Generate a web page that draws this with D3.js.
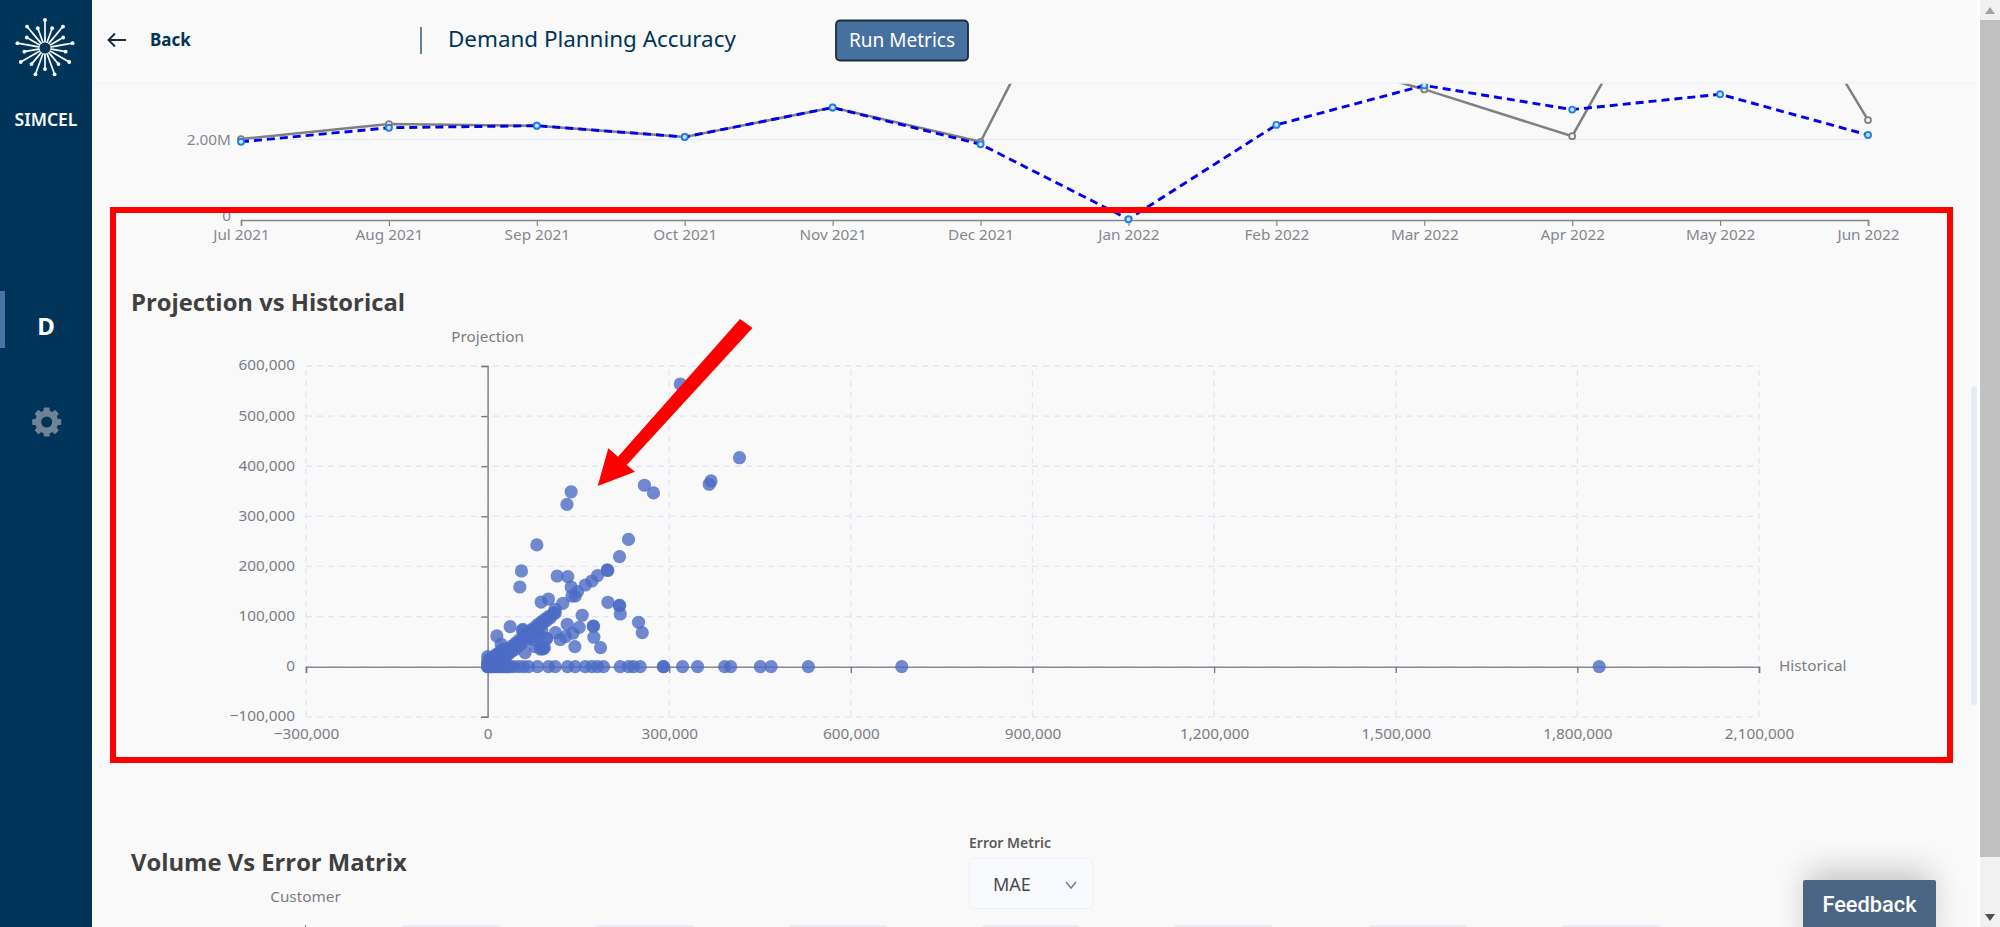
<!DOCTYPE html>
<html>
<head>
<meta charset="utf-8">
<title>Demand Planning Accuracy</title>
<script src="https://cdn.jsdelivr.net/npm/d3@7"></script>
<style>
  html, body { margin: 0; padding: 0; background: #f9f9f9; overflow: hidden; }
  svg { display: block; }
  text { font-family: "Noto Sans", sans-serif; }
  .tick-label text { font-size: 15.3px; fill: #7b7d85; }
</style>
</head>
<body>
<div id="page"></div>
<script>
var monthLabels = ["Jul 2021","Aug 2021","Sep 2021","Oct 2021","Nov 2021","Dec 2021","Jan 2022","Feb 2022","Mar 2022","Apr 2022","May 2022","Jun 2022"];
var actualValues = [2007000,2380000,2340000,2060000,2790000,1940000,9100000,4300000,3240000,2080000,8600000,2480000];
var plannedValues = [1940000,2290000,2340000,2060000,2790000,1880000,20000,2360000,3340000,2740000,3120000,2110000];
var lineTicks = [0,2000000];

var historicalTicks = [-300000,0,300000,600000,900000,1200000,1500000,1800000,2100000];
var projectionTicks = [-100000,0,100000,200000,300000,400000,500000,600000];

// upper scatter, off the diagonal
var offHistorical = [318200,416000,369000,366000,259000,274000,138000,131000,232700,81300,217900,55900,53200,114900,132500,197500,198500,181500,172200,161200,138000,148500,144600,139200,100500,88400,124300,111600,198700,217400,218200,219000,249300,255400,156200,174400,175000,175500,186500,144100,131400,151300,140800,128600,119800,112100,96700,97500,93900,87300,62000,37200,15200,58200,22300,57500,90600,91800,78500,89600,84000,78500,0,0,0,3000];
var offProjection = [564000,417000,370600,364000,362000,346700,349000,324000,254000,243000,219600,191000,159000,181000,179600,193000,192000,181600,171000,163000,159000,149700,141000,141000,135000,129000,126500,114600,128500,121800,122500,105200,88600,67900,102600,81200,80500,58700,37900,39900,84600,78600,66700,59900,53900,67900,56700,56000,37900,35300,27900,79800,61300,74600,44700,71800,35300,36000,53300,73300,60000,39900,5000,10000,20000,15000];

// the thick band where projection follows historical
var bandHistorical = [3500,7200,9800,13500,16100,19400,22800,25300,28900,31200,34700,37100,40600,43300,46800,49500,52700,55400,58900,61300,64800,67200,70500,73600,76200,79800,82100,85400,88300,91700,94200,97500,100300,103800,106900,109400,111600,2000,6500,11000,14200,18300,21700,26400,5000,10500,15800,20400,24900,29800,33900,38400,44200,48700,54100,60200,66300,71900,77800,83600];
var bandProjection = [6000,4800,11200,9300,17100,14800,23900,20600,30100,26800,35200,33400,41700,39100,47800,45600,53400,51300,59600,57200,65100,63400,71800,69600,77200,75300,83400,81100,88900,87200,94300,92100,99700,97800,103900,107200,107000,12500,14800,20300,24600,26100,31400,36200,1800,3600,7400,11800,14300,19500,24800,29600,33500,39200,44100,50300,56400,61800,67400,73900];

// points sitting on the zero line, zero projection
var zeroHistorical = [0,0,1000,2000,3000,5000,7000,9000,12000,15000,18000,21000,24000,27000,30000,33000,37000,42700,51000,59200,67500,82300,100500,111600,132000,144600,161200,172200,181500,191400,219000,232800,241000,252100,290000,291000,322000,346800,391400,401400,450400,468300,529800,684000,1836000];

var svg = d3.select("#page").append("svg")
    .attr("width", 2000)
    .attr("height", 927);

svg.append("rect").attr("width", 2000).attr("height", 927).attr("fill", "#f9f9f9");

/* ---- line chart left over from the section above ---- */
var lineX = d3.scalePoint().domain(monthLabels).range([241, 1868]);
var lineY = d3.scaleLinear().domain([0, 2000000]).range([220, 139.4]);

var lineGrid = svg.append("g");
lineGrid.append("line")
    .attr("x1", lineX.range()[0]).attr("x2", lineX.range()[1])
    .attr("y1", lineY(2000000)).attr("y2", lineY(2000000))
    .attr("stroke", "#e9edf3").attr("stroke-width", 1.5);

var lineBottom = svg.append("g")
    .attr("class", "tick-label")
    .attr("transform", "translate(0," + lineY(0) + ")")
    .call(d3.axisBottom(lineX).tickSize(6).tickPadding(3));
lineBottom.select(".domain").attr("stroke", "#85868c").attr("stroke-width", 1.6);
lineBottom.selectAll(".tick line").attr("stroke", "#85868c").attr("stroke-width", 1.2);
lineBottom.selectAll("text").style("fill", "#85878d");

var lineLeft = svg.append("g")
    .attr("class", "tick-label")
    .attr("transform", "translate(241,0)")
    .call(d3.axisLeft(lineY).tickValues(lineTicks).tickSize(0).tickPadding(10)
      .tickFormat(function(d) { return d === 0 ? "0" : (d / 1000000).toFixed(2) + "M"; }));
lineLeft.select(".domain").remove();
lineLeft.selectAll("text").style("fill", "#85878d");
lineLeft.selectAll("text").filter(function(d) { return d === 0; }).attr("y", -4);

var linePath = d3.line()
    .x(function(d, i) { return lineX(monthLabels[i]); })
    .y(function(d) { return lineY(d); });

svg.append("path").datum(actualValues)
    .attr("d", linePath).attr("fill", "none")
    .attr("stroke", "#808080").attr("stroke-width", 2.5);
svg.selectAll(".actual-dot").data(actualValues).enter().append("circle")
    .attr("class", "actual-dot")
    .attr("cx", function(d, i) { return lineX(monthLabels[i]); })
    .attr("cy", function(d) { return lineY(d); })
    .attr("r", 3)
    .attr("fill", "#f4f4f4").attr("stroke", "#808080").attr("stroke-width", 1.8);

svg.append("path").datum(plannedValues)
    .attr("d", linePath).attr("fill", "none")
    .attr("stroke", "#0000f0").attr("stroke-width", 2.9)
    .attr("stroke-dasharray", "8,5");
svg.selectAll(".planned-dot").data(plannedValues).enter().append("circle")
    .attr("class", "planned-dot")
    .attr("cx", function(d, i) { return lineX(monthLabels[i]); })
    .attr("cy", function(d) { return lineY(d); })
    .attr("r", 3)
    .attr("fill", "#cfe4fb").attr("stroke", "#1e82e6").attr("stroke-width", 1.9);

/* ---- sticky header hides what rises above it ---- */
svg.append("rect").attr("x", 92).attr("y", 0).attr("width", 1888).attr("height", 83).attr("fill", "#f9f9f9");
svg.append("line").attr("x1", 92).attr("x2", 1975).attr("y1", 83).attr("y2", 83)
    .attr("stroke", "#f0f3f8").attr("stroke-width", 1.5);

svg.append("path").attr("d", "M126,40H109M115,33.5L108.5,40L115,46.5")
    .attr("fill", "none").attr("stroke", "#1c2b3a").attr("stroke-width", 1.9);
svg.append("text").attr("x", 150).attr("y", 46).text("Back")
    .attr("font-size", 17).attr("font-weight", 700).attr("fill", "#003459");
svg.append("line").attr("x1", 421).attr("x2", 421).attr("y1", 27).attr("y2", 54)
    .attr("stroke", "#003459").attr("stroke-width", 1.2);
svg.append("text").attr("x", 448).attr("y", 47).text("Demand Planning Accuracy")
    .attr("font-size", 22.4).attr("fill", "#003459");
svg.append("rect").attr("x", 836).attr("y", 20.5).attr("width", 132).attr("height", 40).attr("rx", 4)
    .attr("fill", "#46709f").attr("stroke", "#1d2a38").attr("stroke-width", 1.8);
svg.append("text").attr("x", 902).attr("y", 47).attr("text-anchor", "middle").text("Run Metrics")
    .attr("font-size", 19).attr("fill", "#fff");

/* ---- Projection vs Historical ---- */
svg.append("text").attr("x", 131).attr("y", 311).text("Projection vs Historical")
    .style("font-family", "'Open Sans'")
    .attr("font-size", 23.8).attr("font-weight", 700).attr("fill", "#404040");

var x = d3.scaleLinear().domain([-300000, 2100000]).range([306, 1759]);
var y = d3.scaleLinear().domain([-100000, 600000]).range([716.8, 366]);

var grid = svg.append("g").attr("stroke", "#dfe6f5").attr("stroke-width", 1.3).attr("stroke-dasharray", "6,5");
grid.selectAll(".gy").data(projectionTicks).enter().append("line")
    .attr("x1", x.range()[0]).attr("x2", x.range()[1])
    .attr("y1", function(d) { return y(d); }).attr("y2", function(d) { return y(d); });
grid.selectAll(".gx").data(historicalTicks).enter().append("line")
    .attr("y1", y.range()[0]).attr("y2", y.range()[1])
    .attr("x1", function(d) { return x(d); }).attr("x2", function(d) { return x(d); });

// axis lines cross at zero, labels stay on the outer edges
var xAxis = svg.append("g")
    .attr("transform", "translate(0," + y(0) + ")")
    .call(d3.axisBottom(x).tickValues(historicalTicks).tickSize(6.4).tickFormat(""));
var yAxis = svg.append("g")
    .attr("transform", "translate(" + x(0) + ",0)")
    .call(d3.axisLeft(y).tickValues(projectionTicks).tickSize(6.4).tickFormat(""));
[xAxis, yAxis].forEach(function(a) {
  a.select(".domain").attr("stroke", "#8b8c92").attr("stroke-width", 1.6);
  a.selectAll(".tick line").attr("stroke", "#77787f").attr("stroke-width", 1.3);
});

var commas = d3.format(",");
var xLabels = svg.append("g").attr("class", "tick-label")
    .attr("transform", "translate(0," + y.range()[0] + ")")
    .call(d3.axisBottom(x).tickValues(historicalTicks).tickSize(0).tickPadding(11).tickFormat(commas));
xLabels.select(".domain").remove();
var yLabels = svg.append("g").attr("class", "tick-label")
    .attr("transform", "translate(" + x.range()[0] + ",-1)")
    .call(d3.axisLeft(y).tickValues(projectionTicks).tickSize(0).tickPadding(11).tickFormat(commas));
yLabels.select(".domain").remove();

svg.append("text").attr("x", x(0)).attr("y", 342).attr("text-anchor", "middle").text("Projection")
    .attr("font-size", 15.3).attr("fill", "#7b7d85");
svg.append("text").attr("x", 1779).attr("y", 671).text("Historical")
    .attr("font-size", 15.3).attr("fill", "#7b7d85");

function drawPoints(xs, ys) {
  svg.append("g").selectAll("circle").data(xs).enter().append("circle")
      .attr("cx", function(d) { return x(d); })
      .attr("cy", function(d, i) { return y(ys[i]); })
      .attr("r", 6.6)
      .attr("fill", "#4c6cc4")
      .attr("fill-opacity", 0.8);
}
drawPoints(offHistorical, offProjection);
drawPoints(bandHistorical, bandProjection);
drawPoints(zeroHistorical, zeroHistorical.map(function() { return 0; }));

/* ---- next section, cut off by the window ---- */
svg.append("text").attr("x", 131).attr("y", 871).text("Volume Vs Error Matrix")
    .style("font-family", "'Open Sans'")
    .attr("font-size", 23.8).attr("font-weight", 700).attr("fill", "#404040");
svg.append("text").attr("x", 305.5).attr("y", 902).attr("text-anchor", "middle").text("Customer")
    .attr("font-size", 15.3).attr("fill", "#7b7d85");
svg.append("text").attr("x", 969).attr("y", 848).text("Error Metric")
    .attr("font-size", 14).attr("font-weight", 600).attr("fill", "#5a5a5a");
svg.append("rect").attr("x", 969.5).attr("y", 858.5).attr("width", 123).attr("height", 50).attr("rx", 4)
    .attr("fill", "#f8fafd").attr("stroke", "#edf1f7");
svg.append("text").attr("x", 993).attr("y", 891).text("MAE")
    .attr("font-size", 18).attr("fill", "#4a4a4a");
svg.append("path").attr("d", "M1066,882L1071,888L1076,882").attr("fill", "none")
    .attr("stroke", "#6f8296").attr("stroke-width", 1.5);

var stripeStarts = [403,596,789,982,1175,1370,1563];
svg.selectAll(".stripe").data(stripeStarts).enter().append("rect")
    .attr("class", "stripe")
    .attr("x", function(d) { return d; }).attr("y", 925).attr("width", 97).attr("height", 2)
    .attr("fill", "#e9eef6");
svg.append("line").attr("x1", 305.5).attr("x2", 305.5).attr("y1", 925).attr("y2", 927).attr("stroke", "#77787f");

/* ---- annotation on top of everything ---- */
svg.append("rect").attr("x", 113).attr("y", 210).attr("width", 1837).attr("height", 550)
    .attr("fill", "none").attr("stroke", "#ff0000").attr("stroke-width", 6);
svg.append("polygon")
    .attr("points", "597.7,486 608.3,448.3 618,456.7 740,319 752.5,328 626.7,465 635,471.7")
    .attr("fill", "#ff0000");

/* ---- feedback button ---- */
var defs = svg.append("defs");
var blur = defs.append("filter").attr("id", "soft").attr("x", "-30%").attr("y", "-60%").attr("width", "160%").attr("height", "220%");
blur.append("feGaussianBlur").attr("stdDeviation", 16);
svg.append("rect").attr("x", 1808).attr("y", 872).attr("width", 123).attr("height", 70).attr("fill", "#000").attr("opacity", 0.22).attr("filter", "url(#soft)");
svg.append("rect").attr("x", 1803).attr("y", 880).attr("width", 133).attr("height", 60).attr("rx", 2).attr("fill", "#4a6484");
svg.append("text").attr("x", 1869.5).attr("y", 912).attr("text-anchor", "middle").text("Feedback")
    .style("font-family", "Roboto").attr("font-size", 21.8).attr("font-weight", 500).attr("fill", "#fff");

/* ---- scrollbars ---- */
svg.append("rect").attr("x", 1971).attr("y", 386).attr("width", 6).attr("height", 319).attr("rx", 3).attr("fill", "#e8edf5");
svg.append("rect").attr("x", 1977).attr("y", 0).attr("width", 3).attr("height", 927).attr("fill", "#fff");
svg.append("rect").attr("x", 1980).attr("y", 0).attr("width", 20).attr("height", 927).attr("fill", "#f1f1f1");
svg.append("rect").attr("x", 1980).attr("y", 20).attr("width", 20).attr("height", 837).attr("fill", "#c1c1c1");
svg.append("path").attr("d", "M1985,14L1990,7L1995,14Z").attr("fill", "#a3a3a3");
svg.append("path").attr("d", "M1985,914L1990,921L1995,914Z").attr("fill", "#505050");

/* ---- sidebar ---- */
svg.append("rect").attr("width", 92).attr("height", 927).attr("fill", "#003459");
svg.append("rect").attr("x", 0).attr("y", 291).attr("width", 5).attr("height", 57).attr("fill", "#4a72a3");
svg.append("text").attr("x", 46).attr("y", 335).attr("text-anchor", "middle").text("D")
    .attr("font-size", 24).attr("font-weight", 700).attr("fill", "#fff");
svg.append("text").attr("x", 46).attr("y", 126).attr("text-anchor", "middle").text("SIMCEL")
    .attr("font-size", 17.5).attr("font-weight", 600).attr("fill", "#fff");

var logo = svg.append("g").attr("transform", "translate(45,48)");
var spokes = d3.range(18).map(function(i) {
  return { angle: i * 2 * Math.PI / 18 - Math.PI / 2, reach: i % 2 ? 21 : 28 };
});
logo.selectAll("line").data(spokes).enter().append("line")
    .attr("x1", function(d) { return 5 * Math.cos(d.angle); })
    .attr("y1", function(d) { return 5 * Math.sin(d.angle); })
    .attr("x2", function(d) { return d.reach * Math.cos(d.angle); })
    .attr("y2", function(d) { return d.reach * Math.sin(d.angle); })
    .attr("stroke", "#fff").attr("stroke-width", 1.7);
logo.selectAll(".tip").data(spokes).enter().append("circle")
    .attr("class", "tip")
    .attr("cx", function(d) { return d.reach * Math.cos(d.angle); })
    .attr("cy", function(d) { return d.reach * Math.sin(d.angle); })
    .attr("r", 1.9).attr("fill", "#fff");
logo.append("circle").attr("r", 5.5).attr("fill", "#003459");

var gear = svg.append("g").attr("transform", "translate(46.7,422)").attr("fill", "#6f8296");
d3.range(8).forEach(function(i) {
  gear.append("rect").attr("x", -3).attr("y", -14.5).attr("width", 6).attr("height", 6).attr("rx", 1)
      .attr("transform", "rotate(" + (i * 45) + ")");
});
gear.append("path").attr("d", d3.arc()({ innerRadius: 5.5, outerRadius: 11.5, startAngle: 0, endAngle: 2 * Math.PI }));
</script>
</body>
</html>
